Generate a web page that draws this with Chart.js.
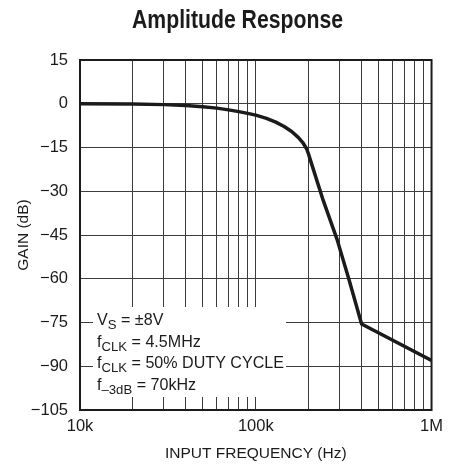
<!DOCTYPE html>
<html>
<head>
<meta charset="utf-8">
<title>Amplitude Response</title>
<script src="https://cdn.jsdelivr.net/npm/chart.js@4.4.1/dist/chart.umd.min.js"></script>
<style>
  html, body { margin: 0; padding: 0; background: #ffffff; }
  canvas { display: block; }
</style>
</head>
<body>
<canvas id="chart" width="450" height="467"></canvas>
<script>
// Measured amplitude response of the filter (gain in dB vs input frequency in Hz)
const frequencyHz = [10000, 20000, 30000, 40000, 50000, 60000, 70000, 80000, 90000, 100000,
                     115000, 130000, 145000, 160000, 175000, 185000, 195000, 200000, 205000,
                     240000, 290000, 340000, 400000, 1000000];
const gainDb      = [0, -0.1, -0.3, -0.6, -1.0, -1.5, -2.1, -2.7, -3.3, -3.9,
                     -5.0, -6.3, -7.8, -9.5, -11.6, -13.3, -15.5, -17.4, -19.5,
                     -32.5, -46.5, -60.5, -75.5, -88];

// Log-decade grid: one line at every 1..9 multiple
const gridFrequencies = [10000, 20000, 30000, 40000, 50000, 60000, 70000, 80000, 90000,
                         100000, 200000, 300000, 400000, 500000, 600000, 700000, 800000, 900000,
                         1000000];
const xTickValues = [10000, 100000, 1000000];
const xTickLabels = ['10k', '100k', '1M'];
const yTickValues = [15, 0, -15, -30, -45, -60, -75, -90, -105];
const yTickLabels = ['15', '0', '\u221215', '\u221230', '\u221245', '\u221260', '\u221275', '\u221290', '\u2212105'];

const titleText = 'Amplitude Response';
const xAxisTitle = 'INPUT FREQUENCY (Hz)';
const yAxisTitle = 'GAIN (dB)';
// Test conditions: each line is a list of [text, isSubscript] runs
const conditionLines = [
  [['V', 0], ['S', 1], [' = \u00B18V', 0]],
  [['f', 0], ['CLK', 1], [' = 4.5MHz', 0]],
  [['f', 0], ['CLK', 1], [' = 50% DUTY CYCLE', 0]],
  [['f', 0], ['\u20133dB', 1], [' = 70kHz', 0]]
];

const FONT = "'Liberation Sans', Arial, Helvetica, sans-serif";
const INK = '#1b1b1b';
const GRID = '#3c3c3c';

function lineWidthOf(ctx, runs, mainFont, subFont) {
  let w = 0;
  for (const [t, sub] of runs) {
    ctx.font = sub ? subFont : mainFont;
    w += ctx.measureText(t).width;
  }
  return w;
}

const decorations = {
  id: 'decorations',
  beforeDatasetsDraw(chart) {
    const { ctx, chartArea: a } = chart;
    // white panel that holds the test conditions, laid over the grid
    ctx.save();
    ctx.fillStyle = '#ffffff';
    ctx.fillRect(a.left + 13, 307, 193, 90);
    ctx.restore();
  },
  afterDatasetsDraw(chart) {
    const { ctx, chartArea: a } = chart;
    ctx.save();

    // plot frame
    ctx.strokeStyle = INK;
    ctx.lineWidth = 2;
    ctx.strokeRect(a.left, a.top, a.right - a.left, a.bottom - a.top);

    // chart title, bold and slightly condensed
    ctx.fillStyle = INK;
    ctx.font = 'bold 25px ' + FONT;
    const tw = ctx.measureText(titleText).width;
    ctx.save();
    ctx.translate(237.5, 28);
    ctx.scale(211 / tw, 1);
    ctx.textAlign = 'center';
    ctx.textBaseline = 'alphabetic';
    ctx.fillText(titleText, 0, 0);
    ctx.restore();

    // test-condition lines
    const mainFont = '16.5px ' + FONT;
    const subFont = '13.5px ' + FONT;
    const widest = lineWidthOf(ctx, conditionLines[2], mainFont, subFont);
    const sx = 187 / widest;
    const baselines = [325, 346.5, 368, 389.5];
    conditionLines.forEach((runs, i) => {
      ctx.save();
      ctx.translate(a.left + 17, baselines[i]);
      ctx.scale(sx, 1);
      ctx.textAlign = 'left';
      ctx.textBaseline = 'alphabetic';
      let x = 0;
      for (const [t, sub] of runs) {
        ctx.font = sub ? subFont : mainFont;
        ctx.fillText(t, x, sub ? 4 : 0);
        x += ctx.measureText(t).width;
      }
      ctx.restore();
    });

    ctx.restore();
  }
};

new Chart(document.getElementById('chart'), {
  type: 'line',
  data: {
    datasets: [{
      data: frequencyHz.map((f, i) => ({ x: f, y: gainDb[i] })),
      borderColor: INK,
      borderWidth: 3.5,
      pointRadius: 0,
      tension: 0,
      borderJoinStyle: 'round',
      borderCapStyle: 'round',
      fill: false
    }]
  },
  options: {
    responsive: false,
    animation: false,
    devicePixelRatio: 1,
    layout: { padding: { top: 60, right: 18, left: 0, bottom: 0 } },
    plugins: {
      legend: { display: false },
      tooltip: { enabled: false },
      title: { display: false }
    },
    scales: {
      x: {
        type: 'logarithmic',
        min: 10000,
        max: 1000000,
        afterBuildTicks(scale) { scale.ticks = gridFrequencies.map(v => ({ value: v })); },
        afterFit(scale) { scale.height = 57; },
        grid: { color: GRID, lineWidth: 1, drawTicks: false },
        border: { display: false },
        ticks: {
          autoSkip: false,
          maxRotation: 0,
          padding: 7,
          color: INK,
          font: { family: FONT, size: 16.5 },
          callback(value) {
            const i = xTickValues.indexOf(value);
            return i >= 0 ? xTickLabels[i] : '';
          }
        },
        title: {
          display: true,
          text: xAxisTitle,
          color: INK,
          font: { family: FONT, size: 15.5 },
          padding: { top: 0, bottom: 4 }
        }
      },
      y: {
        type: 'linear',
        min: -105,
        max: 15,
        afterBuildTicks(scale) { scale.ticks = yTickValues.map(v => ({ value: v })); },
        afterFit(scale) { scale.width = 80; },
        grid: { color: GRID, lineWidth: 1, drawTicks: false },
        border: { display: false },
        ticks: {
          padding: 12,
          color: INK,
          font: { family: FONT, size: 16.5 },
          callback(value) {
            const i = yTickValues.indexOf(value);
            return i >= 0 ? yTickLabels[i] : '';
          }
        },
        title: {
          display: true,
          text: yAxisTitle,
          color: INK,
          font: { family: FONT, size: 15.5 },
          padding: { top: 14, bottom: 0 }
        }
      }
    }
  },
  plugins: [decorations]
});
</script>
</body>
</html>
